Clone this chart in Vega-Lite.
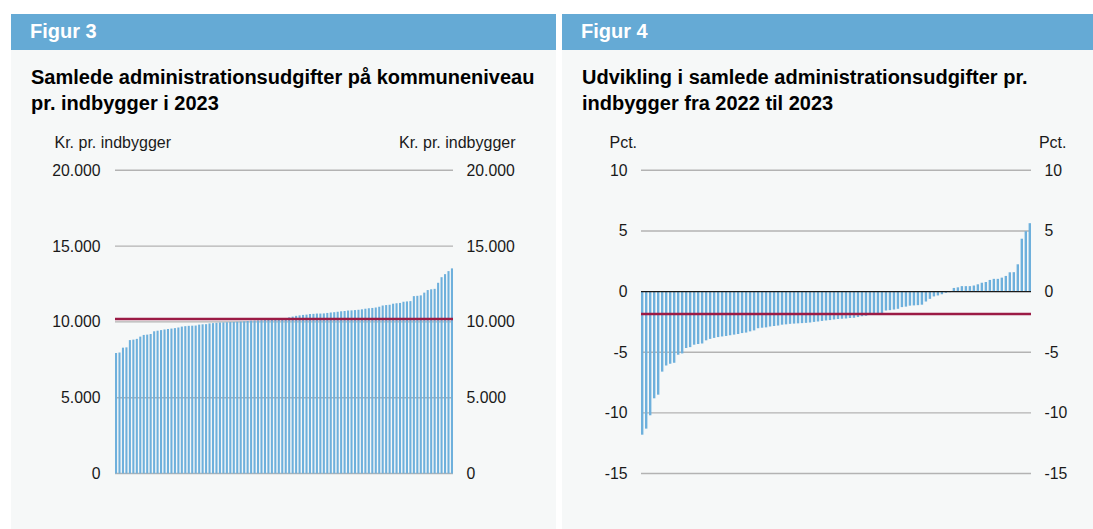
{
  "$schema": "https://vega.github.io/schema/vega-lite/v6.json",
  "background": "white",
  "padding": {"left": 11, "top": 14, "right": 0, "bottom": 0},
  "config": {"view": {"stroke": null}, "font": "Liberation Sans"},
  "datasets": {
    "fig3": [
      {"i":1,"v":7950},{"i":2,"v":7980},{"i":3,"v":8300},{"i":4,"v":8320},{"i":5,"v":8800},{"i":6,"v":8830},{"i":7,"v":8880},{"i":8,"v":9030},{"i":9,"v":9140},{"i":10,"v":9160},
      {"i":11,"v":9200},{"i":12,"v":9380},{"i":13,"v":9420},{"i":14,"v":9460},{"i":15,"v":9500},{"i":16,"v":9530},{"i":17,"v":9560},{"i":18,"v":9590},{"i":19,"v":9630},{"i":20,"v":9690},
      {"i":21,"v":9720},{"i":22,"v":9740},{"i":23,"v":9750},{"i":24,"v":9760},{"i":25,"v":9820},{"i":26,"v":9840},{"i":27,"v":9850},{"i":28,"v":9900},{"i":29,"v":9920},{"i":30,"v":9940},
      {"i":31,"v":9960},{"i":32,"v":9970},{"i":33,"v":9980},{"i":34,"v":9990},{"i":35,"v":10000},{"i":36,"v":10010},{"i":37,"v":10020},{"i":38,"v":10040},{"i":39,"v":10060},{"i":40,"v":10080},
      {"i":41,"v":10090},{"i":42,"v":10100},{"i":43,"v":10110},{"i":44,"v":10120},{"i":45,"v":10130},{"i":46,"v":10140},{"i":47,"v":10150},{"i":48,"v":10160},{"i":49,"v":10180},{"i":50,"v":10200},
      {"i":51,"v":10300},{"i":52,"v":10350},{"i":53,"v":10400},{"i":54,"v":10430},{"i":55,"v":10460},{"i":56,"v":10480},{"i":57,"v":10520},{"i":58,"v":10530},{"i":59,"v":10550},{"i":60,"v":10550},
      {"i":61,"v":10560},{"i":62,"v":10590},{"i":63,"v":10620},{"i":64,"v":10640},{"i":65,"v":10670},{"i":66,"v":10700},{"i":67,"v":10720},{"i":68,"v":10750},{"i":69,"v":10760},{"i":70,"v":10780},
      {"i":71,"v":10800},{"i":72,"v":10830},{"i":73,"v":10870},{"i":74,"v":10900},{"i":75,"v":10920},{"i":76,"v":10950},{"i":77,"v":11000},{"i":78,"v":11080},{"i":79,"v":11110},{"i":80,"v":11130},
      {"i":81,"v":11200},{"i":82,"v":11230},{"i":83,"v":11250},{"i":84,"v":11330},{"i":85,"v":11350},{"i":86,"v":11370},{"i":87,"v":11700},{"i":88,"v":11720},{"i":89,"v":11750},{"i":90,"v":11930},
      {"i":91,"v":12100},{"i":92,"v":12150},{"i":93,"v":12180},{"i":94,"v":12580},{"i":95,"v":12950},{"i":96,"v":13150},{"i":97,"v":13350},{"i":98,"v":13530}
    ],
    "fig4": [
      {"i":1,"v":-11.8},{"i":2,"v":-11.3},{"i":3,"v":-10.2},{"i":4,"v":-8.8},{"i":5,"v":-8.5},{"i":6,"v":-6.6},{"i":7,"v":-6.1},{"i":8,"v":-5.95},{"i":9,"v":-5.87},{"i":10,"v":-5.2},
      {"i":11,"v":-5.1},{"i":12,"v":-4.65},{"i":13,"v":-4.58},{"i":14,"v":-4.38},{"i":15,"v":-4.32},{"i":16,"v":-4.28},{"i":17,"v":-4.02},{"i":18,"v":-3.9},{"i":19,"v":-3.82},{"i":20,"v":-3.75},
      {"i":21,"v":-3.7},{"i":22,"v":-3.66},{"i":23,"v":-3.6},{"i":24,"v":-3.55},{"i":25,"v":-3.5},{"i":26,"v":-3.42},{"i":27,"v":-3.38},{"i":28,"v":-3.28},{"i":29,"v":-3.2},{"i":30,"v":-3.02},
      {"i":31,"v":-2.98},{"i":32,"v":-2.95},{"i":33,"v":-2.88},{"i":34,"v":-2.84},{"i":35,"v":-2.8},{"i":36,"v":-2.73},{"i":37,"v":-2.7},{"i":38,"v":-2.66},{"i":39,"v":-2.64},{"i":40,"v":-2.62},
      {"i":41,"v":-2.6},{"i":42,"v":-2.58},{"i":43,"v":-2.55},{"i":44,"v":-2.5},{"i":45,"v":-2.46},{"i":46,"v":-2.42},{"i":47,"v":-2.38},{"i":48,"v":-2.35},{"i":49,"v":-2.3},{"i":50,"v":-2.26},
      {"i":51,"v":-2.24},{"i":52,"v":-2.22},{"i":53,"v":-2.18},{"i":54,"v":-2.16},{"i":55,"v":-2.1},{"i":56,"v":-2.03},{"i":57,"v":-2.0},{"i":58,"v":-1.86},{"i":59,"v":-1.84},{"i":60,"v":-1.83},
      {"i":61,"v":-1.8},{"i":62,"v":-1.56},{"i":63,"v":-1.53},{"i":64,"v":-1.48},{"i":65,"v":-1.42},{"i":66,"v":-1.28},{"i":67,"v":-1.24},{"i":68,"v":-1.16},{"i":69,"v":-1.14},{"i":70,"v":-1.12},
      {"i":71,"v":-1.08},{"i":72,"v":-0.82},{"i":73,"v":-0.6},{"i":74,"v":-0.4},{"i":75,"v":-0.32},{"i":76,"v":-0.22},{"i":77,"v":-0.1},{"i":78,"v":-0.05},{"i":79,"v":0.3},{"i":80,"v":0.35},
      {"i":81,"v":0.45},{"i":82,"v":0.45},{"i":83,"v":0.45},{"i":84,"v":0.5},{"i":85,"v":0.6},{"i":86,"v":0.73},{"i":87,"v":0.79},{"i":88,"v":0.96},{"i":89,"v":1.05},{"i":90,"v":1.05},
      {"i":91,"v":1.15},{"i":92,"v":1.29},{"i":93,"v":1.59},{"i":94,"v":1.6},{"i":95,"v":2.25},{"i":96,"v":4.36},{"i":97,"v":4.98},{"i":98,"v":5.64}
    ],
    "grid3": [{"v":0},{"v":5000},{"v":10000},{"v":15000},{"v":20000}],
    "grid4": [{"v":-15},{"v":-10},{"v":-5},{"v":5},{"v":10}],
    "zero4": [{"v":0}],
    "avg3": [{"v":10190}],
    "avg4": [{"v":-1.85}]
  },
  "spacing": 6,
  "hconcat": [
    {
      "spacing": 0,
      "vconcat": [
        {
          "width": 545, "height": 36,
          "view": {"fill": "#65aad5", "stroke": null},
          "data": {"values": [{"label": "Figur 3"}]},
          "mark": {"type": "text", "align": "left", "baseline": "middle", "dx": 19, "font": "Liberation Sans", "fontSize": 20, "fontWeight": "bold", "color": "white"},
          "encoding": {
            "text": {"field": "label"},
            "x": {"datum": 0, "type": "quantitative", "scale": {"domain": [0, 1]}, "axis": null}
          }
        },
        {
          "width": 545, "height": 479,
          "view": {"fill": "#f6f8f8", "stroke": null},
          "title": {"text": ["Samlede administrationsudgifter på kommuneniveau", "pr. indbygger i 2023"], "anchor": "start", "frame": "group", "orient": "top", "offset": -64, "baseline": "top", "dx": 20, "font": "Liberation Sans", "fontSize": 20, "fontWeight": "bold", "color": "#000000", "lineHeight": 26},
          "resolve": {"axis": {"y": "independent"}},
          "layer": [
            {
              "data": {"name": "grid3"},
              "mark": {"type": "rule", "color": "#b3b3b3", "strokeWidth": 1.4},
              "encoding": {
                "x": {"datum": 1, "type": "ordinal", "bandPosition": 0, "axis": null},
                "x2": {"datum": 98, "bandPosition": 1},
                "y": {"field": "v", "type": "quantitative", "scale": {"domain": [-3661, 27935], "nice": false, "zero": false},
                  "axis": {"orient": "left", "values": [0, 5000, 10000, 15000, 20000], "offset": -97, "domain": false, "ticks": false, "grid": false, "labelPadding": 8, "labelExpr": "replace(format(datum.value, ','), ',', '.')", "labelFont": "Liberation Sans", "labelFontSize": 15.8, "labelColor": "#1a1a1a", "labelFlush": false, "labelOverlap": false, "labelBound": false,
                    "title": "Kr. pr. indbygger", "titleAngle": 0, "titleAlign": "left", "titleBaseline": "middle", "titleX": -54, "titleY": 92, "titleFont": "Liberation Sans", "titleFontWeight": "normal", "titleFontSize": 16, "titleColor": "#1a1a1a"}}
              }
            },
            {
              "data": {"name": "fig3"},
              "mark": {"type": "bar", "color": "#6eb0dc"},
              "encoding": {
                "x": {"field": "i", "type": "ordinal", "axis": null, "scale": {"type": "band", "range": [104, 442], "paddingInner": 0.4, "paddingOuter": 0}},
                "y": {"field": "v", "type": "quantitative", "scale": {"domain": [-3661, 27935], "nice": false, "zero": false},
                  "axis": {"orient": "right", "values": [0, 5000, 10000, 15000, 20000], "offset": -98, "domain": false, "ticks": false, "grid": false, "labelPadding": 8, "labelExpr": "replace(format(datum.value, ','), ',', '.')", "labelFont": "Liberation Sans", "labelFontSize": 15.8, "labelColor": "#1a1a1a", "labelFlush": false, "labelOverlap": false, "labelBound": false,
                    "title": "Kr. pr. indbygger", "titleAngle": 0, "titleAlign": "right", "titleBaseline": "middle", "titleX": 57, "titleY": 92, "titleFont": "Liberation Sans", "titleFontWeight": "normal", "titleFontSize": 16, "titleColor": "#1a1a1a"}},
                "y2": {"datum": 0}
              }
            },
            {
              "data": {"name": "avg3"},
              "mark": {"type": "rule", "color": "#9b1b45", "strokeWidth": 2.5},
              "encoding": {
                "x": {"datum": 1, "type": "ordinal", "bandPosition": 0, "axis": null},
                "x2": {"datum": 98, "bandPosition": 1},
                "y": {"field": "v", "type": "quantitative", "axis": null, "scale": {"domain": [-3661, 27935], "nice": false, "zero": false}}
              }
            }
          ]
        }
      ]
    },
    {
      "spacing": 0,
      "vconcat": [
        {
          "width": 531, "height": 36,
          "view": {"fill": "#65aad5", "stroke": null},
          "data": {"values": [{"label": "Figur 4"}]},
          "mark": {"type": "text", "align": "left", "baseline": "middle", "dx": 19, "font": "Liberation Sans", "fontSize": 20, "fontWeight": "bold", "color": "white"},
          "encoding": {
            "text": {"field": "label"},
            "x": {"datum": 0, "type": "quantitative", "scale": {"domain": [0, 1]}, "axis": null}
          }
        },
        {
          "width": 531, "height": 479,
          "view": {"fill": "#f6f8f8", "stroke": null},
          "title": {"text": ["Udvikling i samlede administrationsudgifter pr.", "indbygger fra 2022 til 2023"], "anchor": "start", "frame": "group", "orient": "top", "offset": -64, "baseline": "top", "dx": 20, "font": "Liberation Sans", "fontSize": 20, "fontWeight": "bold", "color": "#000000", "lineHeight": 26},
          "resolve": {"axis": {"y": "independent"}},
          "layer": [
            {
              "data": {"name": "grid4"},
              "mark": {"type": "rule", "color": "#b3b3b3", "strokeWidth": 1.4},
              "encoding": {
                "x": {"datum": 1, "type": "ordinal", "bandPosition": 0, "axis": null},
                "x2": {"datum": 98, "bandPosition": 1},
                "y": {"field": "v", "type": "quantitative", "scale": {"domain": [-19.576, 19.919], "nice": false, "zero": false},
                  "axis": {"orient": "left", "values": [-15, -10, -5, 0, 5, 10], "offset": -73, "domain": false, "ticks": false, "grid": false, "labelPadding": 8, "labelExpr": "'' + datum.value", "labelFont": "Liberation Sans", "labelFontSize": 15.8, "labelColor": "#1a1a1a", "labelFlush": false, "labelOverlap": false, "labelBound": false,
                    "title": "Pct.", "titleAngle": 0, "titleAlign": "left", "titleBaseline": "middle", "titleX": -26, "titleY": 92, "titleFont": "Liberation Sans", "titleFontWeight": "normal", "titleFontSize": 16, "titleColor": "#1a1a1a"}}
              }
            },
            {
              "data": {"name": "fig4"},
              "mark": {"type": "bar", "color": "#6eb0dc"},
              "encoding": {
                "x": {"field": "i", "type": "ordinal", "axis": null, "scale": {"type": "band", "range": [79, 469], "paddingInner": 0.4, "paddingOuter": 0}},
                "y": {"field": "v", "type": "quantitative", "scale": {"domain": [-19.576, 19.919], "nice": false, "zero": false},
                  "axis": {"orient": "right", "values": [-15, -10, -5, 0, 5, 10], "offset": -57, "domain": false, "ticks": false, "grid": false, "labelPadding": 8, "labelExpr": "'' + datum.value", "labelFont": "Liberation Sans", "labelFontSize": 15.8, "labelColor": "#1a1a1a", "labelFlush": false, "labelOverlap": false, "labelBound": false,
                    "title": "Pct.", "titleAngle": 0, "titleAlign": "right", "titleBaseline": "middle", "titleX": 30, "titleY": 92, "titleFont": "Liberation Sans", "titleFontWeight": "normal", "titleFontSize": 16, "titleColor": "#1a1a1a"}},
                "y2": {"datum": 0}
              }
            },
            {
              "data": {"name": "zero4"},
              "mark": {"type": "rule", "color": "#1a1a1a", "strokeWidth": 1.3},
              "encoding": {
                "x": {"datum": 1, "type": "ordinal", "bandPosition": 0, "axis": null},
                "x2": {"datum": 98, "bandPosition": 1},
                "y": {"field": "v", "type": "quantitative", "axis": null, "scale": {"domain": [-19.576, 19.919], "nice": false, "zero": false}}
              }
            },
            {
              "data": {"name": "avg4"},
              "mark": {"type": "rule", "color": "#9b1b45", "strokeWidth": 2.5},
              "encoding": {
                "x": {"datum": 1, "type": "ordinal", "bandPosition": 0, "axis": null},
                "x2": {"datum": 98, "bandPosition": 1},
                "y": {"field": "v", "type": "quantitative", "axis": null, "scale": {"domain": [-19.576, 19.919], "nice": false, "zero": false}}
              }
            }
          ]
        }
      ]
    }
  ]
}
